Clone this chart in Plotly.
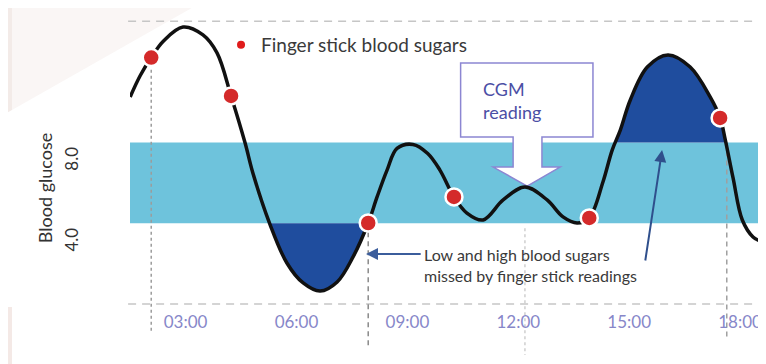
import plotly.graph_objects as go
import numpy as np

# ---- data (hours of day, mmol/L) ----
cgm_hours = [1.50, 1.77, 2.07, 2.39, 2.93, 3.47, 3.85, 4.23, 4.61, 4.82,
             5.28, 5.74, 6.18, 6.64, 7.10, 7.53, 7.94, 8.18, 8.45, 8.72,
             9.15, 9.55, 9.88, 10.26, 10.61, 11.05, 11.59, 12.18, 12.78, 13.21,
             13.59, 13.92, 14.29, 14.54, 14.76, 15.03, 15.49, 16.05, 16.65, 17.19,
             17.46, 17.60, 17.81, 18.06, 18.35, 18.60]
cgm_values = [10.25, 11.3, 12.2, 13.0, 13.71, 13.32, 12.43, 10.30, 7.97, 6.49,
              3.96, 2.03, 1.04, 0.64, 1.09, 2.33, 4.01, 5.30, 6.63, 7.70,
              7.9, 7.45, 6.63, 5.30, 4.50, 4.16, 5.15, 5.79, 5.15, 4.31,
              4.01, 4.26, 6.04, 7.62, 8.61, 10.10, 11.73, 12.33, 11.73, 10.25,
              9.21, 8.12, 6.24, 4.16, 3.32, 3.07]
finger_hours = [2.07, 4.23, 7.94, 10.26, 13.92, 17.46]
finger_values = [12.2, 10.30, 4.01, 5.30, 4.26, 9.21]
range_low, range_high = 4.0, 8.0
tick_hours = [3, 6, 9, 12, 15, 18]
tick_labels = ["03:00", "06:00", "09:00", "12:00", "15:00", "18:00"]
y_tick_vals = [4, 8]
y_tick_labels = ["4.0", "8.0"]
missed_windows = [(4.5, 8.3, "low"), (14.3, 17.8, "high")]

FONT = "Lato"
BAND = "#6ec3dc"
DARK = "#1f4d9e"

h = np.array(cgm_hours)
v = np.array(cgm_values)


def excursion(lo, hi, kind):
    level = range_low if kind == "low" else range_high
    idx = [i for i in range(len(h)) if lo <= h[i] <= hi]
    inside = [i for i in idx if (v[i] < level if kind == "low" else v[i] > level)]
    a, b = inside[0], inside[-1]
    xs, ys = [], []
    t = (level - v[a - 1]) / (v[a] - v[a - 1])
    xs.append(h[a - 1] + t * (h[a] - h[a - 1])); ys.append(level)
    for i in range(a, b + 1):
        xs.append(h[i]); ys.append(v[i])
    t = (level - v[b]) / (v[b + 1] - v[b])
    xs.append(h[b] + t * (h[b + 1] - h[b])); ys.append(level)
    return xs, ys


XR = [1.496, 18.62]
YR = [-0.297, 14.554]


def ypaper(val):
    return (val - YR[0]) / (YR[1] - YR[0])


fig = go.Figure()

for lo, hi, kind in missed_windows:
    xs, ys = excursion(lo, hi, kind)
    fig.add_trace(go.Scatter(x=xs, y=ys, mode="lines", fill="toself",
                             fillcolor=DARK, line=dict(color=DARK, width=0, shape="spline"),
                             hoverinfo="skip", showlegend=False))

fig.add_trace(go.Scatter(x=cgm_hours, y=cgm_values, mode="lines",
                         line=dict(color="#111111", width=3.5, shape="spline"),
                         showlegend=False, name="CGM"))

fig.add_trace(go.Scatter(x=finger_hours, y=finger_values, mode="markers",
                         marker=dict(size=17, color="#d42a2a", line=dict(color="white", width=2.5)),
                         showlegend=False, cliponaxis=False))
# legend entry
fig.add_trace(go.Scatter(x=[None], y=[None], mode="markers", name="Finger stick blood sugars",
                         marker=dict(size=8, color="#e01b1b")))

shapes = []
# background page tint
shapes.append(dict(type="path", xref="paper", yref="paper", layer="below",
                   path="M -0.2054,1.0333 L 0.7583,1.0333 L 0.7425,1.0067 L -0.1864,1.0067 L -0.1864,0.6667 L -0.2054,0.6433 Z",
                   fillcolor="#f3ebe8", line=dict(width=0)))
shapes.append(dict(type="path", xref="paper", yref="paper", layer="below",
                   path="M -0.1864,1.0067 L 0.0975,1.0067 L -0.1864,0.6667 Z",
                   fillcolor="#faf6f5", line=dict(width=0)))
shapes.append(dict(type="rect", xref="paper", yref="paper", layer="below",
                   x0=-0.2054, x1=-0.1864, y0=-0.1800, y1=0.01,
                   fillcolor="#f4e9e6", line=dict(width=0)))
# target band
shapes.append(dict(type="rect", xref="paper", yref="y", layer="below",
                   x0=0, x1=1, y0=range_low, y1=range_high,
                   fillcolor=BAND, line=dict(width=0)))
# dashed reference lines
for yv in (0, 14):
    shapes.append(dict(type="line", xref="paper", yref="y", layer="below",
                       x0=-0.003, x1=1.01, y0=yv, y1=yv,
                       line=dict(color="#c6c6c6", width=1.5, dash="8px,6px")))
# drop lines
drops = [(finger_hours[0], ypaper(11.6), -0.077, "dot", "#9c9c9c"),
         (finger_hours[2], ypaper(4.0), -0.123, "5px,4px", "#8a8a8a"),
         (12.18, ypaper(3.75), -0.15, "dot", "#cfcfcf"),
         (17.64, ypaper(8.0), -0.10, "5px,4px", "#a0a0a0")]
for xd, y0, y1, dash, col in drops:
    shapes.append(dict(type="line", xref="x", yref="paper", layer="below",
                       x0=xd, x1=xd, y0=y0, y1=y1,
                       line=dict(color=col, width=1.5, dash=dash)))
# CGM callout
shapes.append(dict(type="path", xref="x", yref="y", layer="below",
                   path=("M 10.44,11.93 L 14.02,11.93 L 14.02,8.27 L 12.64,8.27 L 12.64,6.78 "
                         "L 13.13,6.78 L 12.24,5.84 L 11.32,6.78 L 11.86,6.78 L 11.86,8.27 L 10.44,8.27 Z"),
                   fillcolor="white", line=dict(color="#8c86d2", width=1.5)))

annotations = [
    dict(text="Blood glucose", textangle=-90, xref="paper", yref="paper",
         x=-0.134, y=0.4067, xanchor="center", yanchor="middle", showarrow=False,
         font=dict(family=FONT, size=18, color="#333333")),
    dict(text="CGM<br>reading", xref="x", yref="y", x=11.0, y=10.05, xanchor="left",
         yanchor="middle", align="left", showarrow=False,
         font=dict(family=FONT, size=18, color="#4b4fa5")),
    dict(text="Low and high blood sugars<br>missed by finger stick readings", xref="x", yref="y",
         x=9.40, y=1.93, xanchor="left", yanchor="middle", align="left", showarrow=False,
         font=dict(family=FONT, size=16, color="#3a3a3a")),
    dict(text="", xref="x", yref="y", axref="x", ayref="y", x=7.88, y=2.48, ax=9.40, ay=2.48,
         showarrow=True, arrowhead=2, arrowsize=1.2, arrowwidth=2, arrowcolor="#3b5d9c"),
    dict(text="", xref="x", yref="y", axref="x", ayref="y", x=15.89, y=7.62, ax=15.43, ay=2.08,
         showarrow=True, arrowhead=2, arrowsize=1.2, arrowwidth=2, arrowcolor="#2f4f8c"),
]

# the page body adds an 8px offset, so margins are reduced by 8px on the left/top
fig.update_layout(
    width=766, height=364, autosize=False,
    margin=dict(l=122, r=11, t=2, b=62, autoexpand=False),
    paper_bgcolor="white", plot_bgcolor="rgba(0,0,0,0)",
    font=dict(family=FONT, color="#333333"),
    shapes=shapes, annotations=annotations,
    showlegend=True,
    legend=dict(x=0.1438, y=0.947, xanchor="left", yanchor="top",
                bgcolor="rgba(0,0,0,0)", font=dict(family=FONT, size=19, color="#3a3a3a"),
                itemsizing="trace"),
    xaxis=dict(range=XR, showgrid=False, zeroline=False, showline=False, ticks="",
               automargin=False,
               tickvals=tick_hours, ticktext=tick_labels,
               tickfont=dict(family=FONT, size=17, color="#8787c9")),
    yaxis=dict(range=YR, showgrid=False, zeroline=False, showline=False, ticks="",
               automargin=False,
               tickvals=y_tick_vals, ticktext=y_tick_labels, tickangle=-90,
               ticklabelstandoff=48, ticklabelshift=19,
               tickfont=dict(family=FONT, size=17, color="#333333")),
)

fig.write_html("out.html")
